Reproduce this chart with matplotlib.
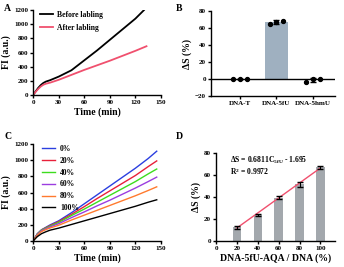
import numpy as np
import matplotlib.pyplot as plt

plt.rcParams['font.family'] = 'Liberation Serif'
plt.rcParams['font.weight'] = 'bold'
plt.rcParams['mathtext.fontset'] = 'custom'
plt.rcParams['mathtext.rm'] = 'Liberation Serif:bold'
plt.rcParams['mathtext.bf'] = 'Liberation Serif:bold'
plt.rcParams['mathtext.it'] = 'Liberation Serif:bold'
plt.rcParams['axes.linewidth'] = 1.0
plt.rcParams['xtick.major.width'] = 1.0
plt.rcParams['ytick.major.width'] = 1.0
plt.rcParams['xtick.major.size'] = 2.5
plt.rcParams['ytick.major.size'] = 2.5

# panel A
t_a1 = [0, 3, 6, 9, 12, 15, 20, 30, 45, 60, 75, 90, 105, 120, 130]
before = [0, 50, 100, 140, 170, 190, 210, 260, 350, 490, 630, 780, 930, 1080, 1200]
t_a2 = [0, 3, 6, 9, 12, 15, 20, 30, 45, 60, 75, 90, 105, 120, 133]
after = [0, 45, 85, 120, 145, 160, 175, 215, 285, 355, 420, 485, 555, 625, 690]

# panel B
cats = ['DNA-T', 'DNA-5fU', 'DNA-5hmU']
b_means = [0, 67, -1]
b_points = [[0, 0, 0], [65, 67.5, 68.5], [-4, 0, 0.5]]
b_err = [0, 1.8, 2.5]

# panel C
t_c = [0, 5, 10, 15, 20, 30, 45, 60, 75, 90, 105, 120, 135, 145]
c_labels = ['0%', '20%', '40%', '60%', '80%', '100%']
c_colors = ['#2b3fe0', '#e8203a', '#3ddc1e', '#9b3de0', '#ff7a2e', '#000000']
c_series = [
    [0, 90, 140, 170, 200, 250, 350, 460, 570, 680, 790, 900, 1020, 1110],
    [0, 88, 138, 165, 192, 240, 330, 425, 525, 620, 715, 810, 920, 990],
    [0, 85, 135, 160, 185, 230, 315, 395, 480, 565, 650, 735, 830, 890],
    [0, 80, 128, 152, 175, 215, 290, 360, 435, 505, 580, 655, 735, 790],
    [0, 72, 118, 142, 162, 195, 260, 320, 380, 440, 500, 560, 625, 670],
    [0, 55, 92, 115, 135, 160, 205, 250, 295, 340, 385, 430, 480, 510],
]

# panel D
d_x = [20, 40, 60, 80, 100]
d_y = [12.5, 24, 39.5, 51.5, 67]
d_err = [1.2, 0.8, 1.5, 2.5, 1.5]
slope, intercept = 0.6811, -1.695

fig = plt.figure(figsize=(3.44, 2.67), dpi=100)
fs_tick = 5
fs_lab = 7

def style(ax):
    ax.spines['top'].set_visible(False)
    ax.spines['right'].set_visible(False)
    ax.tick_params(labelsize=fs_tick, pad=1)
    for lab in ax.get_xticklabels() + ax.get_yticklabels():
        lab.set_fontweight('bold')

# A
ax = fig.add_axes([0.096, 0.644, 0.372, 0.318])
ax.plot(t_a1, before, color='black', lw=1.3, label='Before labling')
ax.plot(t_a2, after, color='#f0506e', lw=1.3, label='After labling')
ax.set_xlim(0, 150)
ax.set_ylim(0, 1200)
ax.set_xticks([0, 30, 60, 90, 120, 150])
ax.set_yticks(range(0, 1201, 200))
ax.set_xlabel('Time (min)', fontsize=fs_lab, fontweight='bold', labelpad=2)
ax.set_ylabel('FI (a.u.)', fontsize=fs_lab, fontweight='bold', labelpad=2)
ax.legend(frameon=False, loc='upper left', bbox_to_anchor=(0.0, 1.07),
          handlelength=1.7, handletextpad=0.6, labelspacing=0.6,
          prop={'weight': 'bold', 'size': 5.5})
style(ax)
fig.text(0.012, 0.985, 'A', fontsize=7, fontweight='bold', va='top')

# B
ax = fig.add_axes([0.613, 0.640, 0.36, 0.319])
xb = np.arange(len(cats))
ax.bar(xb, b_means, width=0.62, color='#9fb0c0', zorder=1)
ax.errorbar(xb, b_means, yerr=b_err, fmt='none', ecolor='black', capsize=2, lw=0.8, zorder=3)
for i, pts in enumerate(b_points):
    ax.scatter([i - 0.19, i, i + 0.19], pts, s=8, color='black', zorder=4)
ax.axhline(0, color='black', lw=1.0, zorder=2)
ax.set_xlim(-0.8, 2.6)
ax.set_ylim(-20, 80)
ax.set_yticks(range(-20, 81, 20))
ax.set_xticks(xb)
ax.set_xticklabels(cats)
ax.set_ylabel('ΔS (%)', fontsize=fs_lab, fontweight='bold', labelpad=2)
style(ax)
fig.text(0.512, 0.985, 'B', fontsize=7, fontweight='bold', va='top')

# C
ax = fig.add_axes([0.096, 0.097, 0.372, 0.364])
for ys, lab, col in zip(c_series, c_labels, c_colors):
    ax.plot(t_c, ys, color=col, lw=1.0, label=lab)
ax.set_xlim(0, 150)
ax.set_ylim(0, 1200)
ax.set_xticks([0, 30, 60, 90, 120, 150])
ax.set_yticks(range(0, 1201, 200))
ax.set_xlabel('Time (min)', fontsize=fs_lab, fontweight='bold', labelpad=2)
ax.set_ylabel('FI (a.u.)', fontsize=fs_lab, fontweight='bold', labelpad=2)
ax.legend(frameon=False, loc='upper left', bbox_to_anchor=(0.02, 1.06),
          handlelength=1.7, handletextpad=0.6, labelspacing=0.5,
          prop={'weight': 'bold', 'size': 5.5})
style(ax)
fig.text(0.012, 0.505, 'C', fontsize=7, fontweight='bold', va='top')

# D
ax = fig.add_axes([0.628, 0.097, 0.346, 0.330])
ax.bar(d_x, d_y, width=8, color='#a3a8ad', zorder=1)
ax.errorbar(d_x, d_y, yerr=d_err, fmt='none', ecolor='black', capsize=2, lw=0.8, zorder=3)
fx = np.array([d_x[0], d_x[-1]])
ax.plot(fx, slope * fx + intercept, color='#f0506e', lw=1.0, zorder=2)
ax.set_xlim(0, 114)
ax.set_ylim(0, 80)
ax.set_xticks([0, 20, 40, 60, 80, 100])
ax.set_yticks(range(0, 81, 20))
ax.set_xlabel('DNA-5fU-AQA / DNA (%)', fontsize=fs_lab, fontweight='bold', labelpad=2)
ax.set_ylabel('ΔS (%)', fontsize=fs_lab, fontweight='bold', labelpad=2)
ax.text(13, 73, r'$\Delta$S = 0.6811C$_{\mathrm{5fU}}$ - 1.695', fontsize=5.5, va='center')
ax.text(13, 63, r'R$^{2}$ = 0.9972', fontsize=5.5, va='center')
style(ax)
fig.text(0.512, 0.505, 'D', fontsize=7, fontweight='bold', va='top')

fig.savefig('out.png', dpi=100)
